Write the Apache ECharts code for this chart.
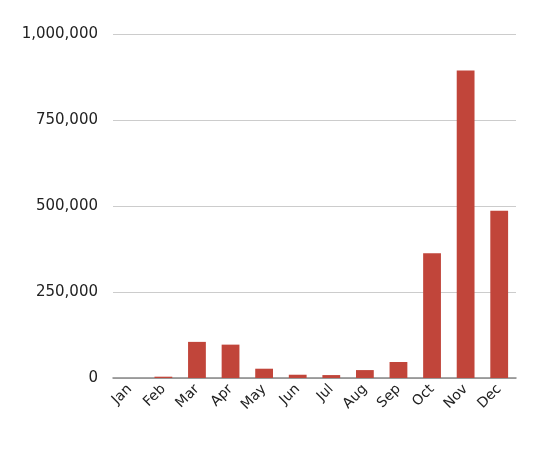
<!DOCTYPE html>
<html>
<head>
<meta charset="utf-8">
<script src="https://cdn.jsdelivr.net/npm/echarts@6/dist/echarts.min.js"></script>
<style>
  html, body { margin: 0; padding: 0; background: #fff; }
  #chart { width: 558px; height: 458px; }
</style>
</head>
<body>
<div id="chart"></div>
<script>
const months = ["Jan", "Feb", "Mar", "Apr", "May", "Jun", "Jul", "Aug", "Sep", "Oct", "Nov", "Dec"];
const values = [0, 3800, 105000, 97000, 27000, 9500, 8500, 23000, 46500, 363000, 894000, 486000];

const chart = echarts.init(document.getElementById("chart"));

chart.setOption({
  animation: false,
  textStyle: { fontFamily: "DejaVu Sans" },
  grid: { left: 113, right: 42, top: 34, bottom: 80 },
  xAxis: {
    type: "category",
    data: months,
    axisLine: { lineStyle: { color: "#888", width: 1.5 } },
    axisTick: { show: false },
    axisLabel: { rotate: 45, color: "#222", fontSize: 14, margin: 9, interval: 0 }
  },
  yAxis: {
    type: "value",
    min: 0,
    max: 1000000,
    interval: 250000,
    axisLine: { show: false },
    axisTick: { show: false },
    splitLine: { lineStyle: { color: "#ccc", width: 1 } },
    axisLabel: {
      color: "#222",
      fontSize: 15,
      margin: 15,
      formatter: (v) => v.toLocaleString("en-US")
    }
  },
  series: [{
    type: "bar",
    data: values,
    barWidth: "53%",
    itemStyle: { color: "#c1453a" }
  }]
});
</script>
</body>
</html>
